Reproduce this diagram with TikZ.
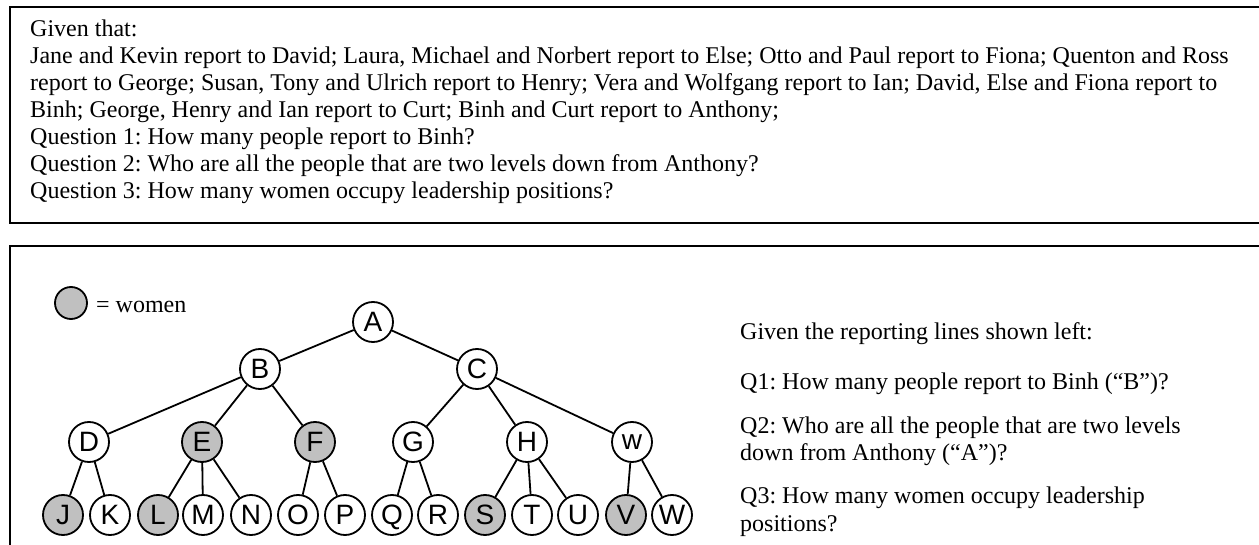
\documentclass[tikz,border=0pt]{standalone}
\usepackage{fontspec}
\setmainfont{Liberation Serif}
\newfontfamily\treefont{Liberation Sans}
\definecolor{womengray}{RGB}{192,192,192}
\frenchspacing
\tikzset{
  person/.style={circle, draw, line width=1.8pt, fill=white, minimum size=40pt, inner sep=0pt,
    text depth=0pt, font=\treefont\fontsize{28}{28}\selectfont},
  woman/.style={person, fill=womengray},
  txt/.style={anchor=base west, inner sep=0pt, font=\fontsize{24}{27}\selectfont},
  frame/.style={line width=2.8pt}
}

\begin{document}
\begin{tikzpicture}[x=1pt,y=-1pt]
    \useasboundingbox (0,0) rectangle (1259,545);
    \clip (0,0) rectangle (1259,545);
    % question box
    \draw [frame] (10,7) rectangle (1280,223);
    \node [txt] (given) at (30,37) {Given that:};
    \node [txt] (line1) at (30,64) {Jane and Kevin report to David; Laura, Michael and Norbert report to Else; Otto and Paul report to Fiona; Quenton and Ross};
    \node [txt] (line2) at (30,91) {report to George; Susan, Tony and Ulrich report to Henry; Vera and Wolfgang report to Ian; David, Else and Fiona report to};
    \node [txt] (line3) at (30,118) {Binh; George, Henry and Ian report to Curt; Binh and Curt report to Anthony;};
    \node [txt] (qone) at (30,145) {Question 1: How many people report to Binh?};
    \node [txt] (qtwo) at (30,172) {Question 2: Who are all the people that are two levels down from Anthony?};
    \node [txt] (qthree) at (30,199) {Question 3: How many women occupy leadership positions?};
    % chart box
    \draw [frame] (10,246) rectangle (1280,580);
    \node [woman, minimum size=32pt] (key) at (71,303) {};
    \node [txt] (keytext) at (96,313) {= women};
    % tree
    \node [person] (A) at (373,322) {A};
    \node [person] (B) at (260,369) {B};
    \node [person] (C) at (477,369) {C};
    \node [person] (D) at (89,442) {D};
    \node [woman] (E) at (202,442) {E};
    \node [woman] (F) at (315,442) {F};
    \node [person] (G) at (413,442) {G};
    \node [person] (H) at (527,442) {H};
    \node [person] (w) at (632,442) {w};
    \node [woman] (J) at (63,515) {J};
    \node [person] (K) at (110,515) {K};
    \node [woman] (L) at (158,515) {L};
    \node [person] (M) at (203,515) {M};
    \node [person] (N) at (251,515) {N};
    \node [person] (O) at (298,515) {O};
    \node [person] (P) at (345,515) {P};
    \node [person] (Q) at (392,515) {Q};
    \node [person] (R) at (438,515) {R};
    \node [woman] (S) at (485,515) {S};
    \node [person] (T) at (532,515) {T};
    \node [person] (U) at (578,515) {U};
    \node [woman] (V) at (626,515) {V};
    \node [person] (W) at (672,515) {W};
    \draw [line width=1.8pt] (A) -- (B) (A) -- (C)
      (B) -- (D) (B) -- (E) (B) -- (F)
      (C) -- (G) (C) -- (H) (C) -- (w)
      (D) -- (J) (D) -- (K) (E) -- (L) (E) -- (M) (E) -- (N)
      (F) -- (O) (F) -- (P) (G) -- (Q) (G) -- (R)
      (H) -- (S) (H) -- (T) (H) -- (U) (w) -- (V) (w) -- (W);
    % questions on the right
    \node [txt] (intro) at (740,340) {Given the reporting lines shown left:};
    \node [txt] (qa) at (740,390) {Q1: How many people report to Binh (“B”)?};
    \node [txt] (qb) at (740,433) {Q2: Who are all the people that are two levels};
    \node [txt] (qbb) at (740,460) {down from Anthony (“A”)?};
    \node [txt] (qc) at (740,503) {Q3: How many women occupy leadership};
    \node [txt] (qcc) at (740,531) {positions?};
  \end{tikzpicture}
\end{document}
